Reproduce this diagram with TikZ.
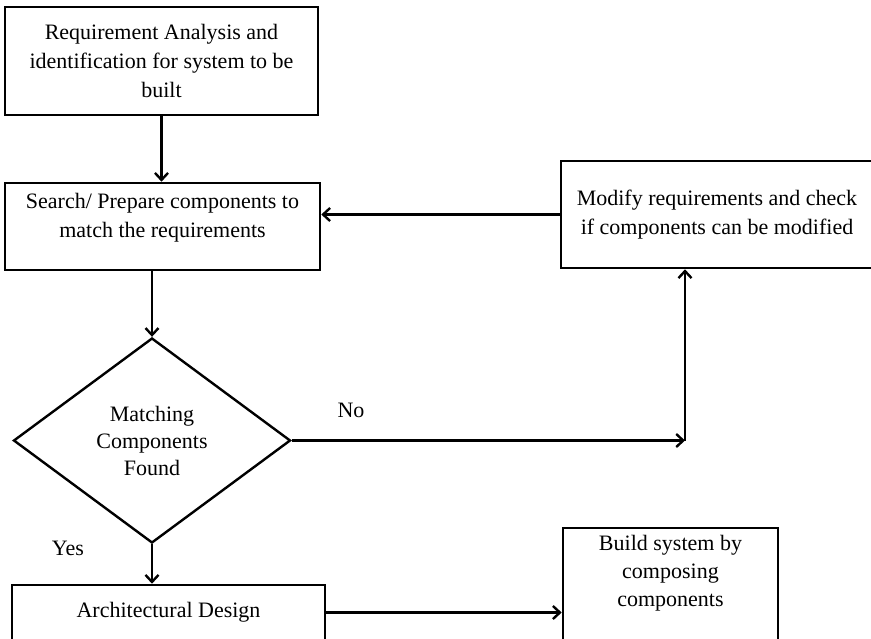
\documentclass[tikz,border=0pt]{standalone}
\usepackage{fontspec}
\setmainfont{Liberation Serif}
\usetikzlibrary{shapes.geometric,arrows.meta}
\begin{document}
\begin{tikzpicture}[x=1pt,y=-1pt,
  txt/.style={font=\fontsize{22}{29}\selectfont, align=center},
  box/.style={draw, line width=2.6pt, rectangle, inner sep=0pt, txt},
  decision/.style={draw, line width=2.4pt, diamond, inner sep=0pt,
    minimum width=277pt, minimum height=205pt, txt,
    font=\fontsize{22}{27}\selectfont},
  flow/.style={line width=2.4pt, -{Straight Barb[length=7pt,width=13pt,line width=2.4pt]}},
  lbl/.style={font=\fontsize{22}{27}\selectfont, inner sep=0pt}
]
\useasboundingbox (0,0) rectangle (871,638);
\clip (0,0) rectangle (871,638);

% process boxes
\node[box, minimum width=313pt, minimum height=108pt] (req) at (161.5,61)
  {Requirement Analysis and\\identification for system to be\\built};
\node[box, minimum width=315pt, minimum height=87pt,
  label={[txt, inner sep=0pt, yshift=8.5pt]center:Search/ Prepare components to\\match the requirements}]
  (search) at (162.5,226.5) {};
\node[box, minimum width=312pt, minimum height=107pt] (modify) at (717,214.5)
  {Modify requirements and check\\if components can be modified};
\node[decision] (dia) at (152,440.5) {Matching\\Components\\Found};
\node[box, minimum width=313pt, minimum height=55pt] (arch) at (168.5,612.5)
  {Architectural Design};
\node[box, minimum width=215pt, minimum height=132pt,
  label={[txt, font=\fontsize{22}{28}\selectfont, inner sep=0pt, yshift=21pt]center:Build system by\\composing\\components}]
  (build) at (670.5,594) {};

% branch labels
\node[lbl] (no) at (351,410) {No};
\node[lbl] (yes) at (68,548) {Yes};

% connectors
\coordinate (turn) at (685,440.5);
\draw[flow] (req.south) -- (req.south |- search.north);
\draw[flow] (search.south -| dia.north) -- (dia.north);
\draw[flow] (modify.west) -- (modify.west -| search.east);
\draw[flow] (dia.east) -- (turn);
\draw[flow] (turn) -- (turn |- modify.south);
\draw[flow] (dia.south) -- (dia.south |- arch.north);
\draw[flow] (arch.east) -- (arch.east -| build.west);
\end{tikzpicture}
\end{document}
